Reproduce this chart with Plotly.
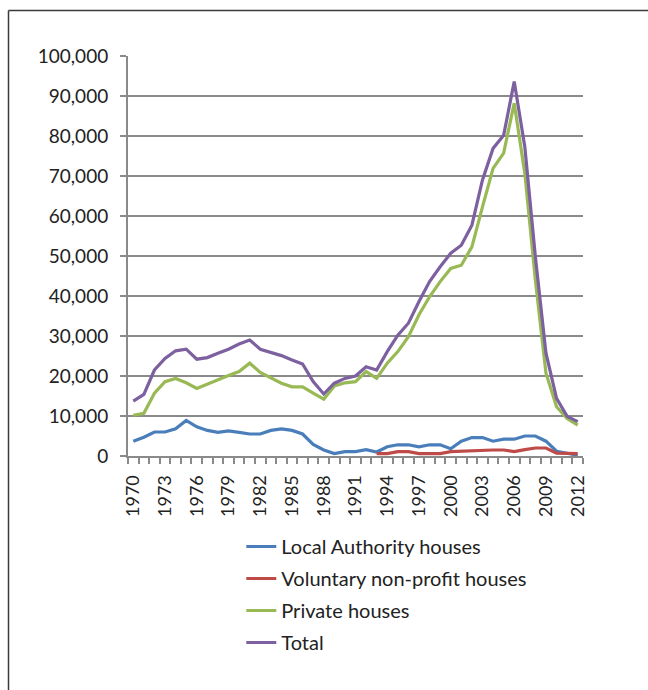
import plotly.graph_objects as go

years = list(range(1970, 2013))

local_authority = [3700, 4700, 6000, 6000, 6800, 8900, 7300, 6400, 5900, 6300,
                   5900, 5500, 5500, 6400, 6800, 6400, 5500, 2900, 1500, 600,
                   1100, 1100, 1600, 1000, 2300, 2800, 2800, 2300, 2800, 2800,
                   1800, 3700, 4600, 4600, 3700, 4200, 4200, 5000, 5000, 3700,
                   1200, 600, 200]

vol_years = list(range(1993, 2013))
voluntary = [600, 600, 1100, 1100, 600, 600, 600, 1100, 1200, 1500,
             1500, 1500, 1500, 1100, 1600, 2000, 2000, 700, 650, 600]

private = [10200, 10700, 15700, 18600, 19400, 18300, 16900, 18000, 19200, 20100,
           21100, 23200, 20900, 19600, 18200, 17300, 17300, 15700, 14200, 17500,
           18300, 18600, 21100, 19400, 23200, 26100, 29800, 35300, 39800, 43600,
           46900, 47700, 52300, 62300, 71900, 75700, 88200, 70700, 44000, 20700,
           12300, 9400, 7700]

total = [13700, 15400, 21500, 24400, 26300, 26700, 24200, 24600, 25700, 26700,
         28000, 29000, 26700, 25900, 25100, 24000, 23000, 18600, 15500, 18200,
         19400, 20000, 22300, 21500, 26100, 30200, 33200, 38600, 43600, 47300,
         50700, 52700, 57700, 69000, 76900, 80200, 93600, 77300, 49800, 25700,
         14400, 9900, 8600]

y_ticks = list(range(0, 100001, 10000))
y_tick_text = ["{:,}".format(v) for v in y_ticks]
x_ticks = list(range(1970, 2013, 3))

font_family = "Lato, 'Open Sans', sans-serif"
text_color = "#222222"
grid_color = "#8a8a8a"

fig = go.Figure()
series = [
    ("Local Authority houses", years, local_authority, "#4A7EBB"),
    ("Voluntary non-profit houses", vol_years, voluntary, "#BE4B48"),
    ("Private houses", years, private, "#98B954"),
    ("Total", years, total, "#7D60A0"),
]
for i, (name, xs, ys, color) in enumerate(series):
    fig.add_trace(go.Scatter(x=xs, y=ys, mode="lines", name=name,
                             legendgroup=f"g{i}",
                             line=dict(color=color, width=3.2)))

W, H = 648, 690
L, T = 128, 56
PW, PH = 455, 400
fig.update_layout(
    width=W, height=H,
    margin=dict(l=L, r=W - L - PW, t=T, b=H - T - PH),
    paper_bgcolor="white", plot_bgcolor="white",
    font=dict(family=font_family, color=text_color),
    showlegend=True,
    legend=dict(x=0.249, y=-0.1775, xanchor="left", yanchor="top",
                font=dict(size=20, color=text_color),
                tracegroupgap=3, bgcolor="rgba(0,0,0,0)"),
    xaxis=dict(range=[1969.5, 2012.5], tickvals=x_ticks,
               ticktext=[str(v) for v in x_ticks],
               tickangle=-90, ticks="", showgrid=False, zeroline=False,
               showline=True, linecolor=grid_color, linewidth=2,
               tickfont=dict(size=18, color=text_color),
               ticklabelstandoff=10,
               minor=dict(ticks="outside", ticklen=6, tickwidth=2,
                          tickcolor=grid_color, tick0=1969.5, dtick=1,
                          showgrid=False)),
    yaxis=dict(range=[0, 100000], tickvals=y_ticks, ticktext=y_tick_text,
               ticks="outside", ticklen=6, tickwidth=2, tickcolor=grid_color,
               showgrid=True, gridcolor=grid_color, gridwidth=2,
               zeroline=False, showline=True, linecolor=grid_color, linewidth=2,
               tickfont=dict(size=19, color=text_color), ticklabelstandoff=8),
    shapes=[
        dict(type="line", xref="paper", yref="paper",
             x0=(8.5 - L) / PW, x1=(W + 20 - L) / PW,
             y0=(T + PH - 10.5) / PH, y1=(T + PH - 10.5) / PH,
             line=dict(color="#3a3a3a", width=1.5)),
        dict(type="line", xref="paper", yref="paper",
             x0=(8.5 - L) / PW, x1=(8.5 - L) / PW,
             y0=(T + PH - 10.5) / PH, y1=(T + PH - H - 20) / PH,
             line=dict(color="#3a3a3a", width=1.5)),
    ],
)

fig.write_html(
    "out.html",
    config={"displayModeBar": False},
    post_script="document.body.style.margin='0';"
                "document.body.style.overflow='hidden';",
)
